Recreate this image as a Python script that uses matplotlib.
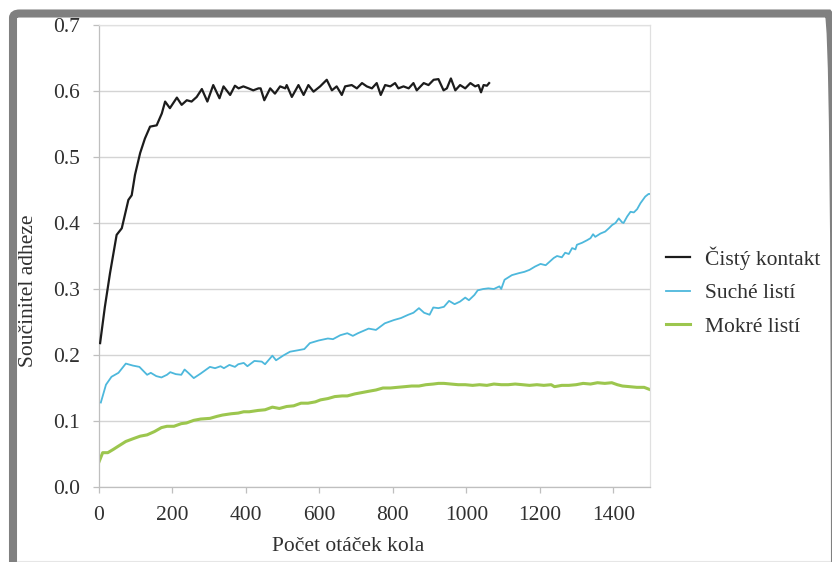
import matplotlib
matplotlib.use("Agg")
import matplotlib.pyplot as plt
from matplotlib.patches import FancyBboxPatch
from matplotlib.lines import Line2D

plt.rcParams['font.family'] = ['Liberation Serif', 'DejaVu Serif']

# ---------------- data ----------------
clean_x = [3, 16, 30, 48, 62, 80, 89, 98, 112, 125, 139, 157, 171, 180, 193, 212, 225, 239,
           252, 266, 280, 295, 311, 328, 339, 357, 370, 380, 393, 407, 420, 434, 440, 450,
           466, 479, 493, 507, 511, 525, 543, 557, 570, 584, 602, 620, 634, 647, 661, 670,
           688, 702, 716, 729, 743, 756, 767, 779, 793, 806, 815, 829, 843, 856, 865, 884,
           897, 911, 924, 938, 947, 958, 970, 983, 997, 1011, 1024, 1033, 1040, 1047, 1056, 1062]
clean_y = [0.218, 0.273, 0.324, 0.382, 0.392, 0.435, 0.442, 0.473, 0.506, 0.528, 0.546, 0.548,
           0.566, 0.584, 0.574, 0.590, 0.579, 0.586, 0.584, 0.591, 0.603, 0.584, 0.609, 0.589,
           0.607, 0.594, 0.608, 0.604, 0.607, 0.604, 0.601, 0.604, 0.604, 0.586, 0.604, 0.596,
           0.607, 0.604, 0.609, 0.591, 0.609, 0.594, 0.609, 0.599, 0.607, 0.617, 0.601, 0.607,
           0.594, 0.607, 0.609, 0.604, 0.612, 0.607, 0.604, 0.612, 0.594, 0.609, 0.607, 0.612,
           0.604, 0.607, 0.604, 0.612, 0.601, 0.612, 0.609, 0.617, 0.618, 0.601, 0.604, 0.619,
           0.601, 0.609, 0.604, 0.612, 0.607, 0.609, 0.598, 0.609, 0.608, 0.612]

dry_x = [5, 19, 34, 53, 73, 92, 110, 131, 141, 156, 170, 185, 194, 209, 224, 233, 243, 258,
         277, 302, 316, 331, 340, 355, 370, 379, 394, 404, 423, 443, 452, 472, 482, 501, 520,
         540, 559, 574, 598, 623, 637, 657, 676, 691, 705, 734, 754, 778, 803, 822, 842, 856,
         871, 885, 900, 910, 924, 939, 953, 968, 983, 997, 1007, 1022, 1031, 1046, 1060, 1075,
         1090, 1095, 1104, 1124, 1143, 1158, 1172, 1187, 1202, 1216, 1226, 1238, 1247, 1260,
         1269, 1279, 1288, 1297, 1301, 1315, 1329, 1338, 1345, 1351, 1365, 1378, 1388, 1397,
         1406, 1415, 1424, 1428, 1438, 1447, 1456, 1465, 1474, 1487, 1496, 1500]
dry_y = [0.128, 0.155, 0.167, 0.173, 0.187, 0.184, 0.182, 0.170, 0.173, 0.168, 0.166, 0.170,
         0.174, 0.171, 0.170, 0.178, 0.173, 0.165, 0.172, 0.182, 0.180, 0.183, 0.180, 0.185,
         0.182, 0.186, 0.188, 0.183, 0.191, 0.190, 0.186, 0.199, 0.192, 0.199, 0.205, 0.207,
         0.209, 0.218, 0.222, 0.225, 0.224, 0.230, 0.233, 0.229, 0.233, 0.240, 0.238, 0.248,
         0.253, 0.256, 0.261, 0.264, 0.271, 0.264, 0.261, 0.272, 0.271, 0.273, 0.282, 0.277,
         0.281, 0.287, 0.283, 0.291, 0.298, 0.300, 0.301, 0.300, 0.304, 0.300, 0.314, 0.321,
         0.324, 0.326, 0.329, 0.334, 0.338, 0.336, 0.341, 0.347, 0.350, 0.348, 0.355, 0.353,
         0.362, 0.360, 0.367, 0.370, 0.374, 0.377, 0.383, 0.379, 0.384, 0.387, 0.392, 0.397,
         0.400, 0.407, 0.401, 0.400, 0.410, 0.417, 0.416, 0.421, 0.430, 0.440, 0.444, 0.444]

wet_x = [0, 10, 24, 39, 53, 73, 92, 112, 131, 151, 170, 185, 204, 224, 238, 258, 277, 302,
         321, 336, 360, 379, 394, 409, 433, 452, 472, 491, 511, 530, 550, 569, 589, 603, 623,
         642, 662, 676, 696, 715, 734, 754, 773, 793, 812, 832, 851, 871, 890, 910, 924, 939,
         958, 978, 997, 1017, 1036, 1056, 1075, 1095, 1114, 1133, 1153, 1172, 1192, 1211, 1231,
         1240, 1260, 1279, 1299, 1318, 1338, 1357, 1377, 1396, 1411, 1425, 1445, 1464, 1484, 1498]
wet_y = [0.038, 0.052, 0.052, 0.057, 0.062, 0.069, 0.073, 0.077, 0.079, 0.084, 0.090, 0.092,
         0.092, 0.096, 0.097, 0.101, 0.103, 0.104, 0.107, 0.109, 0.111, 0.112, 0.114, 0.114,
         0.116, 0.117, 0.121, 0.119, 0.122, 0.123, 0.127, 0.127, 0.129, 0.132, 0.134, 0.137,
         0.138, 0.138, 0.141, 0.143, 0.145, 0.147, 0.150, 0.150, 0.151, 0.152, 0.153, 0.153,
         0.155, 0.156, 0.157, 0.157, 0.156, 0.155, 0.155, 0.154, 0.155, 0.154, 0.156, 0.155,
         0.155, 0.156, 0.155, 0.154, 0.155, 0.154, 0.155, 0.152, 0.154, 0.154, 0.155, 0.157,
         0.156, 0.158, 0.157, 0.158, 0.155, 0.153, 0.152, 0.151, 0.151, 0.148]

labels = ["Čistý kontakt", "Suché listí", "Mokré listí"]
colors = ["#1c1c1c", "#4db8dc", "#9cc64e"]
x_ticks = [0, 200, 400, 600, 800, 1000, 1200, 1400]
y_ticks = [0.0, 0.1, 0.2, 0.3, 0.4, 0.5, 0.6, 0.7]
x_label = "Počet otáček kola"
y_label = "Součinitel adheze"

FS = 15.5

# ---------------- figure ----------------
W, H = 832, 562
fig = plt.figure(figsize=(W / 100, H / 100), dpi=100)

# outer gray frame
frame = FancyBboxPatch((13 / W, -20 / H), (835 - 13) / W, (H - 13.5 + 20) / H,
                       boxstyle="round,pad=0,rounding_size=0.008",
                       transform=fig.transFigure, fill=False,
                       edgecolor="#808080", linewidth=5.8, zorder=0)
fig.patches.append(frame)
fig.add_artist(Line2D([17 / W, 830 / W], [1.2 / H, 1.2 / H], transform=fig.transFigure,
                      color="#e6e6e6", lw=0.8))

ax = fig.add_axes([99 / W, (H - 487) / H, (650 - 99) / W, (487 - 25) / H])

ax.plot(clean_x, clean_y, color=colors[0], lw=1.6, label=labels[0], zorder=4)
ax.plot(dry_x, dry_y, color=colors[1], lw=1.3, label=labels[1], zorder=3)
ax.plot(wet_x, wet_y, color=colors[2], lw=2.2, label=labels[2], zorder=2)

ax.set_xlim(0, 1500)
ax.set_ylim(0, 0.7)
ax.set_xticks(x_ticks)
ax.set_yticks(y_ticks)
ax.set_yticklabels([f"{v:.1f}" for v in y_ticks])
ax.set_xticklabels([str(v) for v in x_ticks])

ax.yaxis.grid(True, color="#d4d4d4", lw=1.0)
ax.xaxis.grid(False)
ax.set_axisbelow(True)

for side in ["left", "bottom"]:
    ax.spines[side].set_color("#bfbfbf")
    ax.spines[side].set_linewidth(0.9)
for side in ["top", "right"]:
    ax.spines[side].set_color("#e0e0e0")
    ax.spines[side].set_linewidth(0.9)

ax.tick_params(axis="both", direction="out", length=4.5, width=0.9, color="#bfbfbf",
               labelsize=FS, labelcolor="#303030")
ax.tick_params(axis="y", pad=9)
ax.tick_params(axis="x", pad=9)

ax.set_xlabel(x_label, fontsize=FS, color="#303030")
ax.set_ylabel(y_label, fontsize=FS, color="#303030")
ax.xaxis.set_label_coords((348 - 99) / 551, (487 - 537) / 462)
ax.yaxis.set_label_coords((38 - 99) / 551, (487 - 291) / 462)

leg = fig.legend(loc="center left", bbox_to_anchor=(666 / W, (H - 291.5) / H),
                 frameon=False, fontsize=FS, handlelength=1.12, handletextpad=0.7,
                 labelspacing=0.62, borderpad=0, borderaxespad=0)
for t in leg.get_texts():
    t.set_color("#303030")

fig.savefig("out.png", dpi=100)
